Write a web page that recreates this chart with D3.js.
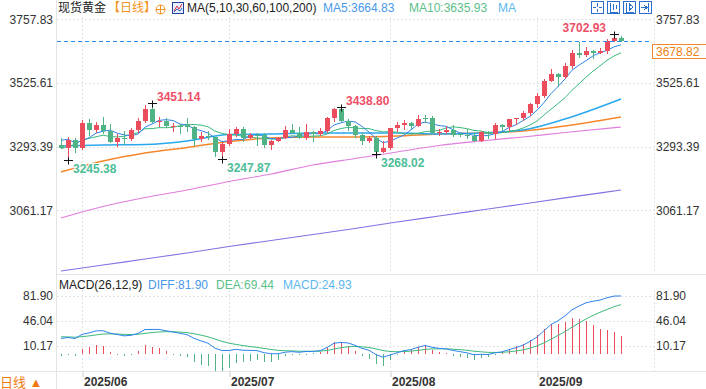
<!DOCTYPE html>
<html>
<head>
<meta charset="utf-8">
<script src="https://cdn.jsdelivr.net/npm/d3@7"></script>
<style>
  body { margin: 0; background: #fff; }
  svg { display: block; font-family: Arial, "Liberation Sans", "Noto Sans CJK SC", sans-serif; }
</style>
</head>
<body>
<svg id="chart" width="706" height="389"></svg>
<script>
// ---- data (daily candles, spot gold) ----
var dates = [
  "2025-05-28","2025-05-29","2025-05-30",
  "2025-06-02","2025-06-03","2025-06-04","2025-06-05","2025-06-06","2025-06-09","2025-06-10","2025-06-11","2025-06-12","2025-06-13",
  "2025-06-16","2025-06-17","2025-06-18","2025-06-19","2025-06-20","2025-06-23","2025-06-24","2025-06-25","2025-06-26","2025-06-27","2025-06-30",
  "2025-07-01","2025-07-02","2025-07-03","2025-07-04","2025-07-07","2025-07-08","2025-07-09","2025-07-10","2025-07-11","2025-07-14","2025-07-15",
  "2025-07-16","2025-07-17","2025-07-18","2025-07-21","2025-07-22","2025-07-23","2025-07-24","2025-07-25","2025-07-28","2025-07-29","2025-07-30","2025-07-31",
  "2025-08-01","2025-08-04","2025-08-05","2025-08-06","2025-08-07","2025-08-08","2025-08-11","2025-08-12","2025-08-13","2025-08-14","2025-08-15",
  "2025-08-18","2025-08-19","2025-08-20","2025-08-21","2025-08-22","2025-08-25","2025-08-26","2025-08-27","2025-08-28","2025-08-29",
  "2025-09-01","2025-09-02","2025-09-03","2025-09-04","2025-09-05","2025-09-08","2025-09-09","2025-09-10","2025-09-11","2025-09-12",
  "2025-09-15","2025-09-16","2025-09-17"
];
var opens = [3300,3288,3318, 3290,3381,3353,3373,3352,3310,3326,3322,3355,3386, 3432,3385,3388,3369,3370,3372,3366,3323,3332,3328,3274,
  3303,3338,3357,3326,3337,3336,3301,3313,3325,3355,3343, 3324,3347,3338,3350,3397,3431,3387,3368,3337,3314,3326,3274,
  3289,3363,3373,3380,3369,3399,3397,3342,3348,3356,3338, 3336,3332,3315,3348,3339,3372,3365,3393,3397,3416,
  3448,3477,3533,3560,3546,3586,3636,3626,3641,3634, 3643,3679,3689.33];
var highs = [3325,3330,3326, 3392,3393,3385,3403,3375,3338,3350,3360,3397,3446, 3451.14,3403,3398,3378,3375,3398,3370,3347,3350,3329,3310,
  3358,3365,3366,3345,3343,3345,3317,3330,3369,3375,3366, 3377,3352,3361,3402,3433,3438.80,3393,3373,3345,3334,3334,3315,
  3363,3385,3390,3385,3408,3409,3405,3358,3369,3374,3348, 3358,3345,3350,3351,3379,3376,3394,3398,3423,3453,
  3490,3540,3578,3563,3600,3646,3674,3658,3646,3655, 3685,3702.93,3697];
var lows = [3285,3245.38,3271, 3280,3333,3345,3339,3307,3293,3301,3315,3342,3378, 3381,3366,3362,3347,3340,3347,3295,3312,3317,3255,3247.87,
  3297,3328,3311,3322,3296,3287,3283,3309,3321,3341,3320, 3319,3310,3331,3345,3383,3381,3351,3325,3301,3308,3268.02,3270,
  3280,3346,3353,3358,3365,3378,3342,3332,3340,3330,3330, 3323,3311,3312,3321,3321,3351,3351,3371,3387,3404,
  3436,3470,3528,3510,3540,3578,3618,3622,3614,3630, 3633,3675,3676];
var closes = [3288,3318,3289, 3381,3353,3373,3352,3310,3326,3322,3355,3386,3432, 3385,3388,3369,3370,3368,3366,3323,3332,3328,3274,3303,
  3338,3357,3326,3337,3336,3301,3313,3325,3355,3343,3324, 3347,3338,3350,3397,3431,3387,3368,3337,3314,3326,3274,3289,
  3363,3373,3380,3369,3396,3397,3342,3348,3356,3335,3336, 3332,3315,3348,3339,3372,3365,3393,3397,3416,3448,
  3477,3533,3560,3546.15,3586,3636,3626,3641,3634,3643, 3679,3689.33,3678.82];

// closes before the first candle (needed for MA5 / MA10 at the left edge)
var priorCloses = [3240,3204,3230,3290,3315,3295,3357,3342,3300];
// MACD ema state just before the first candle
var ema12Seed = 3280, ema26Seed = 3258, deaSeed = 24;

// long moving averages at a few candles
var maSampleIdx = [0,6,12,18,24,30,36,42,48,54,60,66,72,80];
var ma30  = [3295.9,3299.6,3301.4,3314.2,3337.9,3339.7,3343.3,3343.3,3343.3,3339.7,3343.3,3354.3,3394.4,3467.4];
var ma60  = [3201.1,3241.2,3270.4,3290.5,3312.3,3325.1,3328.8,3328.8,3332.4,3339.7,3343.3,3350.6,3368.9,3401.7];
var ma100 = [3033.4,3075.3,3108.2,3135.5,3166.5,3193.9,3226.6,3250.3,3274.0,3297.7,3314.2,3328.8,3345.2,3365.2];
var ma200 = [2840.2,2862.1,2884.0,2905.9,2929.5,2951.4,2973.3,2995.2,3019.0,3040.8,3062.7,3084.6,3106.5,3135.6];

var priceTicks = [3757.83, 3525.61, 3293.39, 3061.17];
var macdTicks = [81.90, 46.04, 10.17];
var monthStarts = ["2025-06-02","2025-07-01","2025-08-01","2025-09-01"];
var highMarks = ["2025-06-16","2025-07-23","2025-09-16"];
var lowMarks = ["2025-05-29","2025-06-30","2025-07-30"];
var lastPrice = 3678.82;

// ---- colours ----
var RED = "#ec4d5c", GREEN = "#4fb386";
var C_MA5 = "#2f84ec", C_MA10 = "#3dba7c", C_MA30 = "#2aa8ec", C_MA60 = "#f5882e", C_MA100 = "#e07ddc", C_MA200 = "#7f74e2";

var svg = d3.select("#chart");

// ---- scales ----
var x = d3.scalePoint().domain(dates).range([61, 621]);
var y = d3.scaleLinear().domain([3061.17, 3757.83]).range([210.4, 19.3]);
var ym = d3.scaleLinear().domain([10.17, 81.90]).range([346, 296]);

// ---- indicators ----
var allCloses = priorCloses.concat(closes);
function sma(n) {
  return closes.map(function(c, i) {
    var k = i + priorCloses.length;
    return d3.mean(allCloses.slice(k - n + 1, k + 1));
  });
}
var ma5 = sma(5), ma10 = sma(10);

var e12 = ema12Seed, e26 = ema26Seed, dea = deaSeed;
var macd = closes.map(function(c) {
  e12 = (2 * c + 11 * e12) / 13;
  e26 = (2 * c + 25 * e26) / 27;
  var diff = e12 - e26;
  dea = (2 * diff + 8 * dea) / 10;
  return { diff: diff, dea: dea, bar: 2 * (diff - dea) };
});

// ---- frame & grid ----
var frame = svg.append("g").attr("stroke", "#e4e4e4").attr("shape-rendering", "crispEdges");
frame.append("line").attr("x1", 56.5).attr("x2", 56.5).attr("y1", 0).attr("y2", 389);
frame.append("line").attr("x1", 57).attr("x2", 706).attr("y1", 274.5).attr("y2", 274.5);
frame.append("line").attr("x1", 0).attr("x2", 706).attr("y1", 371.5).attr("y2", 371.5);

var grid = svg.append("g").attr("stroke", "#e2e2e2").attr("stroke-dasharray", "2,2").attr("shape-rendering", "crispEdges");
priceTicks.forEach(function(v) {
  var gy = Math.round(y(v)) + 0.5;
  grid.append("line").attr("x1", 57).attr("x2", 654).attr("y1", gy).attr("y2", gy);
});
macdTicks.forEach(function(v) {
  var gy = Math.round(ym(v)) + 0.5;
  grid.append("line").attr("x1", 57).attr("x2", 654).attr("y1", gy).attr("y2", gy);
});
monthStarts.concat([null]).forEach(function(d) {
  var gx = d ? Math.round(x(d)) + 0.5 : 654.5;
  grid.append("line").attr("x1", gx).attr("x2", gx).attr("y1", 17).attr("y2", 271);
  grid.append("line").attr("x1", gx).attr("x2", gx).attr("y1", 290).attr("y2", 371);
});

// ---- axes ----
function styleAxis(g) {
  g.select(".domain").remove();
  g.attr("font-family", null).attr("font-size", 12);
  g.selectAll("text").attr("fill", "#333");
}
svg.append("g").attr("transform", "translate(53,0)")
  .call(d3.axisLeft(y).tickValues(priceTicks).tickFormat(d3.format(".2f")).tickSize(0).tickPadding(0))
  .call(styleAxis);
svg.append("g").attr("transform", "translate(656,0)")
  .call(d3.axisRight(y).tickValues(priceTicks).tickFormat(d3.format(".2f")).tickSize(0).tickPadding(0))
  .call(styleAxis);
svg.append("g").attr("transform", "translate(53,0)")
  .call(d3.axisLeft(ym).tickValues(macdTicks).tickFormat(d3.format(".2f")).tickSize(0).tickPadding(0))
  .call(styleAxis);
svg.append("g").attr("transform", "translate(656,0)")
  .call(d3.axisRight(ym).tickValues(macdTicks).tickFormat(d3.format(".2f")).tickSize(0).tickPadding(0))
  .call(styleAxis);

var xAxis = svg.append("g").attr("transform", "translate(0.5,372)")
  .call(d3.axisBottom(x).tickValues(monthStarts).tickFormat(function(d) { return d.slice(0, 7).replace("-", "/"); }).tickSize(5).tickPadding(0))
  .call(styleAxis);
xAxis.selectAll("line").attr("stroke", "#ccc");
xAxis.selectAll("text").attr("text-anchor", "start").attr("x", 1).attr("font-weight", "bold");

// ---- moving averages ----
var lineDaily = d3.line().x(function(d, i) { return x(dates[i]); }).y(function(d) { return y(d); });
var lineSampled = d3.line().curve(d3.curveMonotoneX)
  .x(function(d, i) { return x(dates[maSampleIdx[i]]); }).y(function(d) { return y(d); });

var maG = svg.append("g").attr("fill", "none");
[[ma200, C_MA200, 1.2], [ma100, C_MA100, 1.2], [ma60, C_MA60, 1.5], [ma30, C_MA30, 1.5]].forEach(function(m) {
  maG.append("path").attr("d", lineSampled(m[0])).attr("stroke", m[1]).attr("stroke-width", m[2]);
});

// ---- candles ----
var candles = svg.append("g").attr("shape-rendering", "crispEdges");
dates.forEach(function(d, i) {
  var cx = Math.round(x(d));
  var up = closes[i] >= opens[i];
  var col = up ? RED : GREEN;
  candles.append("rect").attr("x", cx).attr("width", 1)
    .attr("y", y(highs[i])).attr("height", Math.max(1, y(lows[i]) - y(highs[i]))).attr("fill", col);
  var top = y(Math.max(opens[i], closes[i])), bot = y(Math.min(opens[i], closes[i]));
  candles.append("rect").attr("x", cx - 2).attr("width", 5)
    .attr("y", top).attr("height", Math.max(1, bot - top)).attr("fill", col);
});

maG.append("path").attr("d", lineDaily(ma10)).attr("stroke", C_MA10).attr("stroke-width", 1);
maG.append("path").attr("d", lineDaily(ma5)).attr("stroke", C_MA5).attr("stroke-width", 1);

// last price line + tag
var ly = Math.round(y(lastPrice)) + 0.5;
svg.append("line").attr("x1", 57).attr("x2", 652).attr("y1", ly).attr("y2", ly)
  .attr("stroke", "#2b8cf2").attr("stroke-width", 1.2).attr("stroke-dasharray", "4,3");
svg.append("rect").attr("x", 652.5).attr("y", 44.5).attr("width", 60).attr("height", 14)
  .attr("fill", "#fff").attr("stroke", "#f5882e");
svg.append("text").attr("x", 656).attr("y", 56).attr("font-size", 12).attr("fill", "#f07f10").text(d3.format(".2f")(lastPrice));

// ---- high / low markers ----
var marks = svg.append("g").attr("font-size", 12).attr("font-weight", "bold")
  .attr("stroke", "#fff").attr("stroke-width", 2).attr("paint-order", "stroke");
function cross(cx, cy) {
  marks.append("path").attr("d", "M" + (cx - 4) + "," + cy + "H" + (cx + 5) + "M" + (cx + 0.5) + "," + (cy - 3) + "V" + (cy + 4))
    .attr("stroke", "#111").attr("stroke-width", 1).attr("fill", "none");
}
highMarks.forEach(function(d) {
  var i = dates.indexOf(d), cx = Math.round(x(d)), cy = Math.round(y(highs[i])) + 0.5;
  cross(cx, cy);
  var nearEdge = cx > 560;
  marks.append("text").attr("x", nearEdge ? cx - 8 : cx + 5).attr("y", cy - 3)
    .attr("text-anchor", nearEdge ? "end" : "start").attr("fill", "#ee4f68").text(d3.format(".2f")(highs[i]));
});
lowMarks.forEach(function(d) {
  var i = dates.indexOf(d), cx = Math.round(x(d)), cy = Math.round(y(lows[i])) + 0.5;
  cross(cx, cy);
  marks.append("text").attr("x", cx + 5).attr("y", cy + 12.5)
    .attr("fill", "#4dbd97").text(d3.format(".2f")(lows[i]));
});

// ---- MACD panel ----
var zeroY = Math.round(ym(0)) + 0.5;
var bars = svg.append("g").attr("shape-rendering", "crispEdges");
macd.forEach(function(m, i) {
  var cx = Math.round(x(dates[i]));
  var by = ym(m.bar);
  bars.append("rect").attr("x", cx).attr("width", 1)
    .attr("y", Math.min(by, zeroY)).attr("height", Math.max(1, Math.abs(by - zeroY)))
    .attr("fill", m.bar >= 0 ? RED : GREEN);
});
var macdLine = function(key) {
  return d3.line().x(function(d, i) { return x(dates[i]); }).y(function(d) { return ym(d[key]); })(macd);
};
svg.append("path").attr("d", macdLine("dea")).attr("fill", "none").attr("stroke", C_MA10).attr("stroke-width", 1);
svg.append("path").attr("d", macdLine("diff")).attr("fill", "none").attr("stroke", C_MA5).attr("stroke-width", 1);

// ---- header texts ----
var head = svg.append("g").attr("font-size", 12);
head.append("text").attr("x", 58).attr("y", 12).attr("fill", "#222").text("现货黄金");
head.append("text").attr("x", 108).attr("y", 12).attr("fill", "#f39323").text("【日线】");
head.append("circle").attr("cx", 160.5).attr("cy", 9.5).attr("r", 4.5).attr("fill", "none").attr("stroke", "#f39323");
head.append("path").attr("d", "M156,9.5H165M160.5,5V14").attr("stroke", "#f39323");
head.append("rect").attr("x", 172.5).attr("y", 2.5).attr("width", 11).attr("height", 11).attr("fill", "#e8efff").attr("stroke", "#23409a");
head.append("path").attr("d", "M174,11L177,6L179,9L182,4").attr("fill", "none").attr("stroke", "#e0303a");
head.append("path").attr("d", "M174,12L177,9L180,11L182,8").attr("fill", "none").attr("stroke", "#2f60d0");
head.append("text").attr("x", 187).attr("y", 12).attr("fill", "#222").text("MA(5,10,30,60,100,200)");
head.append("text").attr("x", 323).attr("y", 12).attr("fill", "#4a98ea").text("MA5:" + d3.format(".2f")(ma5[ma5.length - 1]));
head.append("text").attr("x", 409).attr("y", 12).attr("fill", "#5cc08a").text("MA10:" + d3.format(".2f")(ma10[ma10.length - 1]));
head.append("text").attr("x", 498).attr("y", 12).attr("fill", "#5cb6ee").text("MA");

// tool buttons top right
var btn = svg.append("g").attr("fill", "none").attr("stroke", "#2a6fd0").attr("shape-rendering", "crispEdges");
[591, 607, 623, 639].forEach(function(bx, k) {
  btn.append("rect").attr("x", bx + 0.5).attr("y", 1.5).attr("width", 12).attr("height", 12).attr("fill", "#fff");
  var g = btn.append("path");
  if (k === 0) g.attr("d", "M" + (bx + 6.5) + ",3V7M" + (bx + 6.5) + ",9V12M" + (bx + 2) + ",7.5H" + (bx + 5) + "M" + (bx + 8) + ",7.5H" + (bx + 11));
  if (k === 1) g.attr("d", "M" + (bx + 3.5) + ",3V12H" + (bx + 11) + "M" + (bx + 6.5) + ",4V10M" + (bx + 9.5) + ",5V9");
  if (k === 2) g.attr("d", "M" + (bx + 3.5) + ",3V12H" + (bx + 11) + "M" + (bx + 6.5) + ",4V10L" + (bx + 10) + ",7Z");
  if (k === 3) g.attr("d", "M" + (bx + 9.5) + ",3V12M" + (bx + 2) + ",7.5H" + (bx + 8) + "M" + (bx + 5) + ",5L" + (bx + 8) + ",7.5L" + (bx + 5) + ",10");
});

// MACD header
var mh = svg.append("g").attr("font-size", 12);
mh.append("text").attr("x", 59).attr("y", 289).attr("fill", "#222").text("MACD(26,12,9)");
mh.append("text").attr("x", 148).attr("y", 289).attr("fill", "#4a98ea").text("DIFF:81.90");
mh.append("text").attr("x", 216).attr("y", 289).attr("fill", "#5cc08a").text("DEA:69.44");
mh.append("text").attr("x", 283).attr("y", 289).attr("fill", "#5cb6ee").text("MACD:24.93");

// bottom-left period switch
svg.append("text").attr("x", 0).attr("y", 387).attr("font-size", 13).attr("fill", "#f07a12").text("日线 ▲");
</script>
</body>
</html>
